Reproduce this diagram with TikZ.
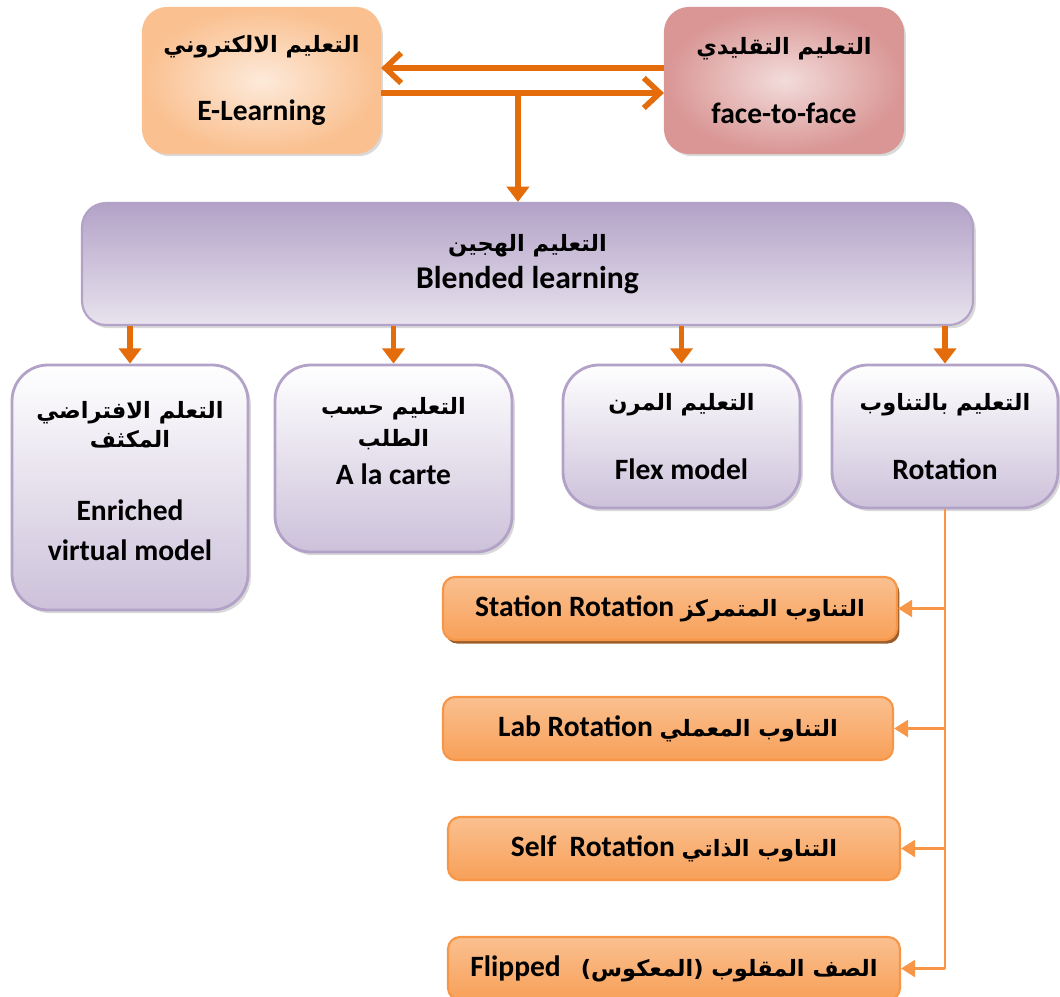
\documentclass[tikz,border=0pt]{standalone}
\usepackage{fontspec}
\setmainfont{Carlito}
\newfontfamily\arabicfont[Script=Arabic]{DejaVu Sans}
\TeXXeTstate=1
\usetikzlibrary{positioning,arrows.meta,shadows,calc}
\definecolor{arroworange}{HTML}{E46C0A}
\definecolor{lineorange}{HTML}{F79646}
\definecolor{peach}{HTML}{FAC090}
\definecolor{peachlight}{HTML}{FDEADA}
\definecolor{rose}{HTML}{D99694}
\definecolor{roselight}{HTML}{F2DCDB}
\definecolor{lilac}{HTML}{B3A2C7}
\definecolor{lilaclight}{HTML}{E8E3EE}
\definecolor{lilacmid}{HTML}{CCC1DA}
\newcommand\pxl{0.025cm}
\newcommand\artxt[1]{{\arabicfont\bfseries\fontsize{16}{20}\selectfont\beginR #1\endR}}
\tikzset{
  box/.style={align=center,inner sep=0pt,font=\bfseries\fontsize{21}{25}\selectfont},
  greyshadow/.style={drop shadow={shadow xshift=0.07cm,shadow yshift=-0.08cm,opacity=0.3}},
  elbox/.style={box,greyshadow,rounded corners=0.6cm,draw=peach,line width=1.5pt,inner color=peachlight,outer color=peach},
  ftfbox/.style={box,greyshadow,rounded corners=0.6cm,draw=rose,line width=1.5pt,inner color=roselight,outer color=rose},
  blendbox/.style={box,greyshadow,rounded corners=0.6cm,draw=lilac,line width=1.5pt,top color=lilac,bottom color=lilaclight},
  modelbox/.style={box,greyshadow,rounded corners=0.9cm,draw=lilac,line width=2pt,top color=white,bottom color=lilacmid},
  rotbox/.style={box,rounded corners=0.3cm,draw=lineorange,line width=1.5pt,top color=peach,middle color=lineorange,bottom color=lineorange!75!peach},
  thickarrow/.style={draw=arroworange,line width=4pt},
  downarrow/.style={thickarrow,-{Triangle[length=0.38cm,width=0.55cm]}},
  branch/.style={draw=lineorange,line width=2pt,-{Triangle[length=0.35cm,width=0.42cm]}}
}
\begin{document}
\begin{tikzpicture}[x=0.025cm,y=-0.025cm]
  \useasboundingbox (0,0) rectangle (1060,997);
  \node[elbox,minimum width=237*\pxl,minimum height=145*\pxl] (elearn) at (261.5,80.5)
    {\artxt{التعليم الالكتروني}\\[24pt]E-Learning};
  \node[ftfbox,minimum width=238*\pxl,minimum height=145*\pxl] (face) at (784,80.5)
    {\artxt{التعليم التقليدي}\\[24pt]face-to-face};
  \node[blendbox,minimum width=891*\pxl,minimum height=122*\pxl] (blended) at (527.5,264)
    {\artxt{التعليم الهجين}\\[1pt]{\fontsize{22.5}{25}\selectfont Blended learning}};

  \node[modelbox,minimum width=236*\pxl,minimum height=245*\pxl] (enriched) at (130,487.5)
    {\artxt{التعلم الافتراضي}\\[-4pt]\artxt{المكثف}\\[27pt]Enriched\\[3pt]virtual model\\[-15pt]\mbox{}};
  \node[modelbox,minimum width=237*\pxl,minimum height=187*\pxl] (alacarte) at (393.5,458.5)
    {\artxt{التعليم حسب}\\[-2pt]\artxt{الطلب}\\[2pt]A la carte\\[0pt]\mbox{}};
  \node[modelbox,minimum width=237*\pxl,minimum height=143*\pxl] (flex) at (681.5,436.5)
    {\artxt{التعليم المرن}\\[24pt]Flex model};
  \node[modelbox,minimum width=226*\pxl,minimum height=143*\pxl] (rotation) at (945,436.5)
    {\artxt{التعليم بالتناوب}\\[24pt]Rotation};

  \node[rotbox,minimum width=454*\pxl,minimum height=63*\pxl,
        drop shadow={shadow xshift=0.06cm,shadow yshift=-0.09cm,fill=arroworange!60!black,opacity=0.85}] (station) at (670,608.5)
    {Station Rotation \artxt{التناوب المتمركز}};
  \node[rotbox,minimum width=450*\pxl,minimum height=63*\pxl] (lab) at (668,728.5)
    {Lab Rotation \artxt{التناوب المعملي}};
  \node[rotbox,minimum width=452*\pxl,minimum height=63*\pxl] (self) at (674,848.5)
    {Self\ \ Rotation \artxt{التناوب الذاتي}};
  \node[rotbox,minimum width=452*\pxl,minimum height=63*\pxl] (flipped) at (674,968.5)
    {Flipped\ \ \ \artxt{الصف المقلوب (المعكوس)}};

  \coordinate (split) at ($(elearn.east)!0.484!(face.west)+(0,12.5)$);
  \draw[thickarrow,-{Straight Barb[length=0.4cm,width=0.75cm]}] ([yshift=12.5*\pxl]face.west) -- ([yshift=12.5*\pxl]elearn.east);
  \draw[thickarrow,-{Straight Barb[length=0.4cm,width=0.75cm]}] ([yshift=-12.5*\pxl]elearn.east) -- ([yshift=-12.5*\pxl]face.west);
  \draw[downarrow] (split) -- (split |- blended.north);

  \foreach \m in {enriched,alacarte,flex,rotation}
    \draw[downarrow] (\m.north |- blended.south) -- (\m.north);

  \draw[lineorange,line width=2pt] (rotation.south) -- (rotation.south |- flipped.east);
  \foreach \r in {station,lab,self,flipped}
    \draw[branch] (rotation.south |- \r.east) -- (\r.east);
\end{tikzpicture}
\end{document}
